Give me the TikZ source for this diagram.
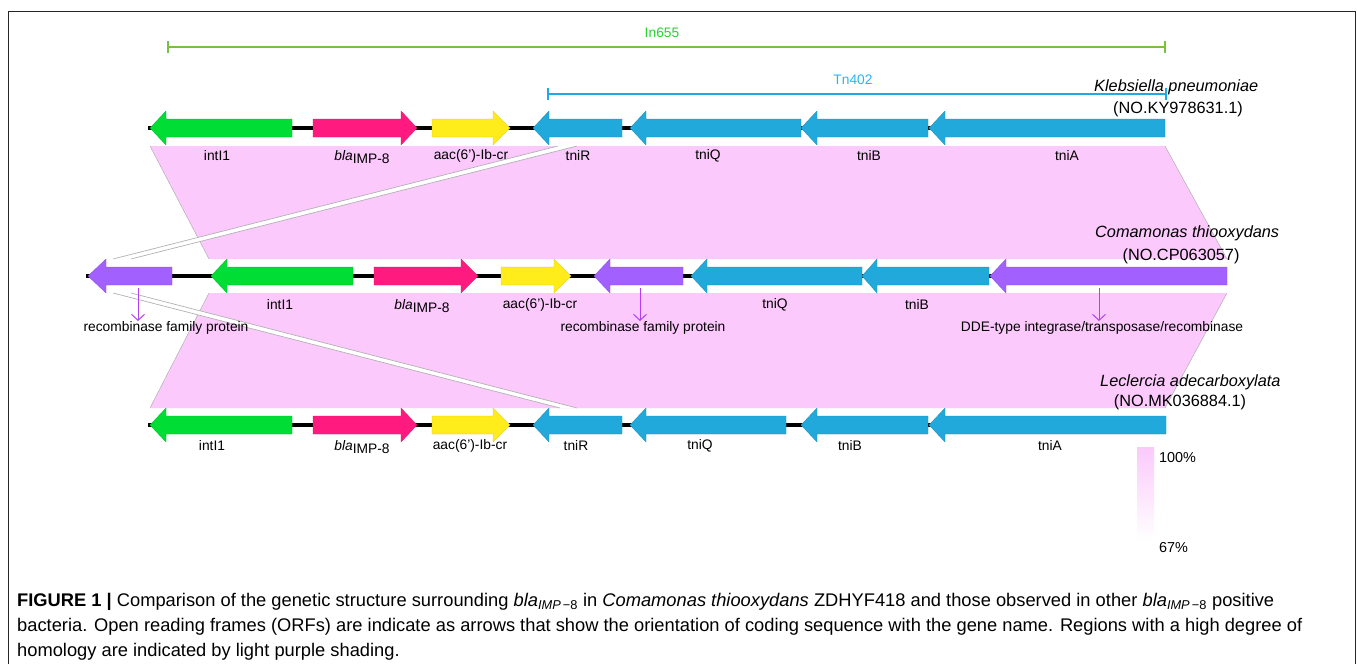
\documentclass[tikz,border=0pt]{standalone}
\usepackage{fontspec}
\setmainfont{Liberation Sans}
\usetikzlibrary{arrows.meta}
\definecolor{cgreen}{RGB}{0,221,52}
\definecolor{cpink}{RGB}{255,26,127}
\definecolor{cyellow}{RGB}{255,236,26}
\definecolor{cblue}{RGB}{34,169,219}
\definecolor{cpurple}{RGB}{162,96,255}
\definecolor{shpink}{RGB}{251,201,251}
\definecolor{dnpurple}{RGB}{178,64,240}
\definecolor{inline}{RGB}{122,192,64}
\definecolor{intext}{RGB}{40,210,50}
\definecolor{tnline}{RGB}{30,170,230}
\definecolor{tntext}{RGB}{40,180,240}
% gene arrow: colour, y, tail x, head-base x, tip x
\newcommand{\genearr}[5]{%
  \filldraw[fill=#1, draw=#1!85!black, line width=0.3pt]
    (#3,#2-9) -- (#4,#2-9) -- (#4,#2-17) -- (#5,#2) -- (#4,#2+17) -- (#4,#2+9) -- (#3,#2+9) -- cycle;}
\newcommand{\blaimp}{{\itshape bla}\raisebox{-0.35ex}{IMP-8}}
\newcommand{\blacap}{{\itshape bla}\textsubscript{\itshape IMP\,\upshape −8}}
\tikzset{
  lbl/.style={font=\fontsize{13.8}{16}\selectfont, inner sep=0pt},
  sp/.style={font=\fontsize{16.3}{19}\selectfont, inner sep=0pt},
  captxt/.style={font=\fontsize{18.3}{22}\selectfont, inner sep=0pt, anchor=base west},
  backbone/.style={line width=4pt, black},
  gapline/.style={draw=black!30, line width=0.7pt},
  edgeline/.style={draw=black!35, line width=0.4pt},
  dnarrow/.style={draw=dnpurple, line width=1pt, -{Straight Barb[length=6pt,width=13pt,line width=1pt]}},
}
\begin{document}
\begin{tikzpicture}[x=1pt,y=-1pt]
\useasboundingbox (0,0) rectangle (1357,664);
% frame
\draw[line width=1pt, black!85] (8,664) -- (8,11) -- (1355,11) -- (1355,664);

% homology shading
\fill[shpink] (150,146) -- (1165,146) -- (1227,259) -- (209,259) -- cycle;
\fill[shpink] (209,293) -- (1227,293) -- (1165,408) -- (150,408) -- cycle;
\draw[edgeline] (150,146) -- (209,259);
\draw[edgeline] (1165,146) -- (1227,259);
\draw[edgeline] (209,293) -- (150,408);
\draw[edgeline] (1227,293) -- (1165,408);
% white gap wedges
\fill[white] (558,146) -- (577,146) -- (131,259) -- (113,259) -- cycle;
\draw[gapline] (558,146) -- (113,259);
\draw[gapline] (577,146) -- (131,259);
\fill[white] (113,293) -- (131,293) -- (577,408) -- (560,408) -- cycle;
\draw[gapline] (113,293) -- (560,408);
\draw[gapline] (131,293) -- (577,408);

% In655 / Tn402 brackets
\coordinate (inL) at (168,47); \coordinate (inR) at (1165,47);
\draw[inline, line width=1.2pt] (inL) -- (inR);
\draw[inline, line width=1.2pt] (168,41) -- (168,53) (1165,41) -- (1165,53);
\node[lbl, text=intext] (in655) at (662,33) {In655};
\coordinate (tnL) at (548,94); \coordinate (tnR) at (1166,94);
\draw[tnline, line width=1.2pt] (tnL) -- (tnR);
\draw[tnline, line width=1.2pt] (548,88) -- (548,100) (1166,88) -- (1166,100);
\node[lbl, text=tntext] (tn402) at (853,80) {Tn402};

% ---------- row 1: Klebsiella ----------
\draw[backbone] (148,128) -- (1165,128);
\genearr{cgreen}{128}{292}{166}{150}
\genearr{cpink}{128}{313}{401}{417}
\genearr{cyellow}{128}{432}{493}{510}
\genearr{cblue}{128}{622}{549}{533}
\genearr{cblue}{128}{801}{646}{630}
\genearr{cblue}{128}{928}{817}{801}
\genearr{cblue}{128}{1165}{945}{929}
\node[lbl] (a1) at (217,156) {intI1};
\node[lbl] (a2) at (362,157) {\blaimp};
\node[lbl] (a3) at (471,156) {aac(6’)-Ib-cr};
\node[lbl] (a4) at (578,156) {tniR};
\node[lbl] (a5) at (708,156) {tniQ};
\node[lbl] (a6) at (869,156) {tniB};
\node[lbl] (a7) at (1067,156) {tniA};
\node[sp, anchor=west] (k1) at (1094,87) {\itshape Klebsiella pneumoniae};
\node[sp] (k2) at (1178,109) {(NO.KY978631.1)};

% ---------- row 2: Comamonas ----------
\draw[backbone] (86,276) -- (1227,276);
\genearr{cpurple}{276}{172}{106}{88}
\genearr{cgreen}{276}{353}{227}{211}
\genearr{cpink}{276}{374}{461}{478}
\genearr{cyellow}{276}{501}{554}{571}
\genearr{cpurple}{276}{683}{610}{594}
\genearr{cblue}{276}{862}{707}{691}
\genearr{cblue}{276}{989}{877}{862}
\genearr{cpurple}{276}{1227}{1006}{990}
\node[lbl] (b1) at (280,305) {intI1};
\node[lbl] (b2) at (422,306) {\blaimp};
\node[lbl] (b3) at (540,305) {aac(6’)-Ib-cr};
\node[lbl] (b5) at (775,305) {tniQ};
\node[lbl] (b6) at (917,305) {tniB};
\node[lbl] (r1) at (166,328) {recombinase family protein};
\node[lbl] (r2) at (643,328) {recombinase family protein};
\node[lbl] (r3) at (1102,328) {DDE-type integrase/transposase/recombinase};
\coordinate (d1s) at (138,288); \coordinate (d1e) at (138,321);
\coordinate (d2s) at (640,288); \coordinate (d2e) at (640,321);
\coordinate (d3s) at (1099,288); \coordinate (d3e) at (1099,321);
\draw[dnarrow] (d1s) -- (d1e);
\draw[dnarrow] (d2s) -- (d2e);
\draw[dnarrow] (d3s) -- (d3e);
\node[sp, anchor=west] (c1) at (1095,233) {\itshape Comamonas thiooxydans};
\node[sp] (c2) at (1181,256) {(NO.CP063057)};

% ---------- row 3: Leclercia ----------
\draw[backbone] (148,425) -- (1166,425);
\genearr{cgreen}{425}{292}{166}{150}
\genearr{cpink}{425}{313}{401}{417}
\genearr{cyellow}{425}{432}{493}{510}
\genearr{cblue}{425}{622}{549}{533}
\genearr{cblue}{425}{786}{646}{630}
\genearr{cblue}{425}{928}{817}{801}
\genearr{cblue}{425}{1166}{945}{929}
\node[lbl] (e1) at (212,446) {intI1};
\node[lbl] (e2) at (362,447) {\blaimp};
\node[lbl] (e3) at (470,446) {aac(6’)-Ib-cr};
\node[lbl] (e4) at (576,446) {tniR};
\node[lbl] (e5) at (700,446) {tniQ};
\node[lbl] (e6) at (850,446) {tniB};
\node[lbl] (e7) at (1050,446) {tniA};
\node[sp, anchor=west] (l1) at (1100,382) {\itshape Leclercia adecarboxylata};
\node[sp] (l2) at (1180,402) {(NO.MK036884.1)};

% legend
\shade[top color=shpink, bottom color=white] (1137,447) rectangle (1154,540);
\node[font=\fontsize{14.4}{16}\selectfont, inner sep=0pt, anchor=west] (p100) at (1159,458) {100\%};
\node[font=\fontsize{14.4}{16}\selectfont, inner sep=0pt, anchor=west] (p67) at (1159,548) {67\%};

% caption
\node[captxt] (cap1) at (17,606) {\textbf{FIGURE 1 |} Comparison of the genetic structure surrounding \blacap{} in \textit{Comamonas thiooxydans} ZDHYF418 and those observed in other \blacap{} positive};
\node[captxt] (cap2) at (17,631) {bacteria. Open reading frames (ORFs) are indicate as arrows that show the orientation of coding sequence with the gene name. Regions with a high degree of};
\node[captxt] (cap3) at (17,656) {homology are indicated by light purple shading.};
\end{tikzpicture}
\end{document}
